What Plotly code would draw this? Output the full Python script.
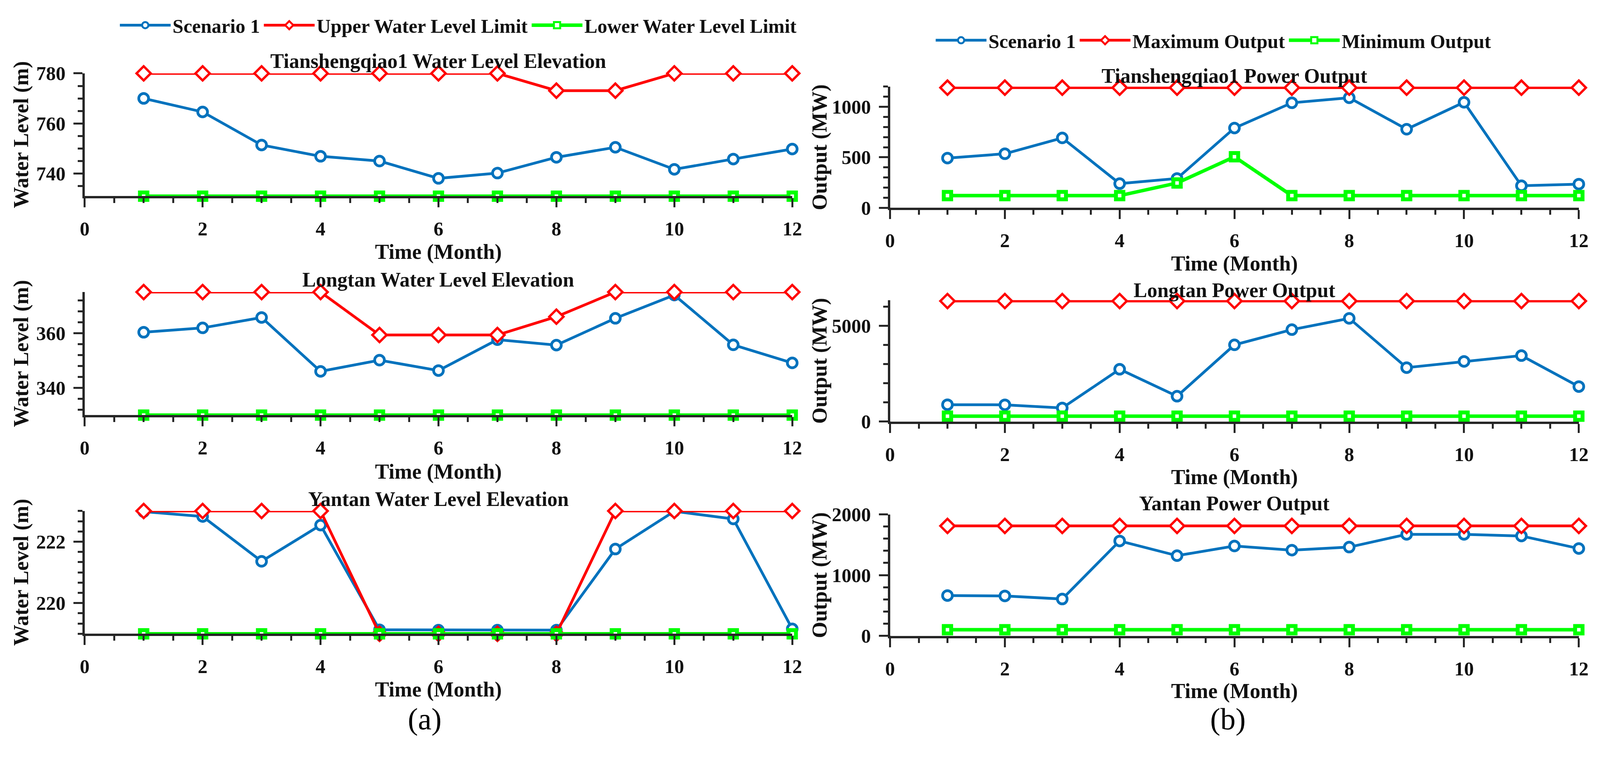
import plotly.graph_objects as go

# reference frame used to place things (pixels of the original figure)
W, H = 4415, 1939

months = [1, 2, 3, 4, 5, 6, 7, 8, 9, 10, 11, 12]
x_ticks = [0, 2, 4, 6, 8, 10, 12]

# ---------------- (a) water level elevation (m) ----------------
tsq1_level = [770.0, 764.6, 751.4, 746.9, 745.0, 738.1, 740.2, 746.5, 750.5, 741.7, 745.8, 749.8]
tsq1_upper = [780, 780, 780, 780, 780, 780, 780, 773.1, 773.1, 780, 780, 780]
tsq1_lower = [731, 731, 731, 731, 731, 731, 731, 731, 731, 731, 731, 731]

longtan_level = [360.3, 361.9, 365.7, 346.0, 350.1, 346.3, 357.6, 355.6, 365.4, 373.9, 355.7, 349.1]
longtan_upper = [375, 375, 375, 375, 359.3, 359.3, 359.3, 366.0, 375, 375, 375, 375]
longtan_lower = [330, 330, 330, 330, 330, 330, 330, 330, 330, 330, 330, 330]

yantan_level = [222.98, 222.82, 221.36, 222.54, 219.13, 219.12, 219.12, 219.12, 221.76, 222.99, 222.74, 219.16]
yantan_upper = [223, 223, 223, 223, 219, 219, 219, 219, 223, 223, 223, 223]
yantan_lower = [219, 219, 219, 219, 219, 219, 219, 219, 219, 219, 219, 219]

# ---------------- (b) power output (MW) ----------------
tsq1_power = [492, 535, 692, 239, 290, 790, 1040, 1090, 778, 1045, 218, 234]
tsq1_max = [1190, 1190, 1190, 1190, 1190, 1190, 1190, 1190, 1190, 1190, 1190, 1190]
tsq1_min = [120, 120, 120, 120, 245, 505, 120, 120, 120, 120, 120, 120]

longtan_power = [880, 875, 712, 2734, 1325, 4011, 4806, 5395, 2819, 3145, 3448, 1829]
longtan_max = [6300, 6300, 6300, 6300, 6300, 6300, 6300, 6300, 6300, 6300, 6300, 6300]
longtan_min = [280, 280, 280, 280, 280, 280, 280, 280, 280, 280, 280, 280]

yantan_power = [663, 657, 606, 1562, 1320, 1479, 1411, 1461, 1671, 1671, 1644, 1438]
yantan_max = [1810, 1810, 1810, 1810, 1810, 1810, 1810, 1810, 1810, 1810, 1810, 1810]
yantan_min = [100, 100, 100, 100, 100, 100, 100, 100, 100, 100, 100, 100]

left_names = ["Scenario 1", "Upper Water Level Limit", "Lower Water Level Limit"]
right_names = ["Scenario 1", "Maximum Output", "Minimum Output"]

BLUE, RED, GREEN, AX = "#0072BD", "#FF0000", "#00FF00", "#262626"
FONT = "Liberation Serif"
TXT = "#111111"

panels = [
    ((tsq1_level, tsq1_upper, tsq1_lower), left_names, "legend",
     "Tianshengqiao1 Water Level Elevation", "Water Level (m)", [731, 780], [740, 760, 780], 5,
     (226, 2186), (181.7, 499.3), 150, 643),
    ((longtan_level, longtan_upper, longtan_lower), left_names, "legend",
     "Longtan Water Level Elevation", "Water Level (m)", [330, 375], [340, 360], 4,
     (226, 2186), (747.4, 1065.8), 716, 1212),
    ((yantan_level, yantan_upper, yantan_lower), left_names, "legend",
     "Yantan Water Level Elevation", "Water Level (m)", [219, 223], [220, 222], 1 / 3,
     (226, 2186), (1313.7, 1631.4), 1283, 1775),
    ((tsq1_power, tsq1_max, tsq1_min), right_names, "legend2",
     "Tianshengqiao1 Power Output", "Output (MW)", [0, 1200], [0, 500, 1000], 100,
     (2457, 4365), (216.1, 529.3), 188, 674),
    ((longtan_power, longtan_max, longtan_min), right_names, "legend2",
     "Longtan Power Output", "Output (MW)", [0, 6350], [0, 5000], 1000,
     (2457, 4365), (768.2, 1082.4), 743, 1226),
    ((yantan_power, yantan_max, yantan_min), right_names, "legend2",
     "Yantan Power Output", "Output (MW)", [0, 2000], [0, 1000, 2000], 200,
     (2457, 4365), (1322.5, 1636.6), 1294, 1779),
]

styles = [
    dict(color=BLUE, width=7, symbol="circle", size=25, mlw=7),
    dict(color=RED, width=7, symbol="diamond", size=28, mlw=6),
    dict(color=GREEN, width=9, symbol="square", size=19, mlw=10),
]

fig = go.Figure()
annotations = []
shapes = []


def bold_font(size):
    return dict(family=FONT, size=size, color=TXT, weight="bold")


for i, (series, names, leg, title, ytitle, yr, ytv, mdt, xd, yd, ty, xty) in enumerate(panels):
    n = "" if i == 0 else str(i + 1)
    xa, ya = "x" + n, "y" + n
    first = i in (0, 3)
    for s, name, st in zip(series, names, styles):
        fig.add_trace(go.Scatter(
            x=months, y=s, name=name, mode="lines+markers",
            xaxis=xa, yaxis=ya, legend=leg, showlegend=first, cliponaxis=False,
            line=dict(color=st["color"], width=st["width"]),
            marker=dict(symbol=st["symbol"], size=st["size"], color="white",
                        line=dict(color=st["color"], width=st["mlw"])),
        ))
    xdom = [xd[0] / W, xd[1] / W]
    ydom = [1 - yd[1] / H, 1 - yd[0] / H]
    common = dict(showline=True, linecolor=AX, linewidth=6, ticks="outside", ticklen=23,
                  tickwidth=5, tickcolor=AX, showgrid=False, zeroline=False, automargin=False,
                  tickfont=bold_font(50))
    fig.layout["xaxis" + n] = dict(
        domain=xdom, anchor=ya, range=[0, 12], tickvals=x_ticks, ticklabelstandoff=12,
        minor=dict(dtick=0.5, tick0=0, ticklen=12, tickwidth=5, tickcolor=AX, ticks="outside"),
        **common)
    fig.layout["yaxis" + n] = dict(
        domain=ydom, anchor=xa, range=yr, tickvals=ytv, ticklabelstandoff=10,
        minor=dict(dtick=mdt, tick0=ytv[0], ticklen=12, tickwidth=5, tickcolor=AX, ticks="outside"),
        **common)
    # y-axis line continues below the x-axis by one tick length
    shapes.append(dict(type="line", xref=xa, yref=ya, x0=0, x1=0, ysizemode="pixel",
                       yanchor=yr[0], y0=0, y1=-23, line=dict(color=AX, width=6)))
    cx = (xdom[0] + xdom[1]) / 2
    annotations.append(dict(text=title, xref="paper", yref="paper", x=cx, y=1 - ty / H,
                            xanchor="center", yanchor="middle", showarrow=False,
                            font=bold_font(52)))
    annotations.append(dict(text="Time (Month)", xref="paper", yref="paper", x=cx, y=1 - xty / H,
                            xanchor="center", yanchor="middle", showarrow=False,
                            font=bold_font(54)))
    ytx = 50 if i < 3 else 2262
    annotations.append(dict(text=ytitle, xref="paper", yref="paper", x=ytx / W,
                            y=ydom[0] / 2 + ydom[1] / 2, textangle=-90, xanchor="center",
                            yanchor="middle", showarrow=False, font=bold_font(54)))

annotations.append(dict(text="(a)", xref="paper", yref="paper", x=1168 / W, y=1 - 1852 / H,
                        xanchor="center", yanchor="middle", showarrow=False,
                        font=dict(family=FONT, size=78, color="black")))
annotations.append(dict(text="(b)", xref="paper", yref="paper", x=3393 / W, y=1 - 1852 / H,
                        xanchor="center", yanchor="middle", showarrow=False,
                        font=dict(family=FONT, size=78, color="black")))

legend_common = dict(orientation="h", xanchor="left", yanchor="middle", itemwidth=130,
                     bgcolor="rgba(0,0,0,0)", borderwidth=0,
                     font=bold_font(50), itemsizing="trace")

fig.update_layout(
    template="none",
    autosize=True, height=1920,
    margin=dict(l=0, r=0, t=0, b=0, pad=0),
    paper_bgcolor="white", plot_bgcolor="white",
    legend=dict(x=318 / W, y=1 - 57 / H, **legend_common),
    legend2=dict(x=2578 / W, y=1 - 96 / H, **legend_common),
    annotations=annotations, shapes=shapes,
)

fig.write_html("out.html")
